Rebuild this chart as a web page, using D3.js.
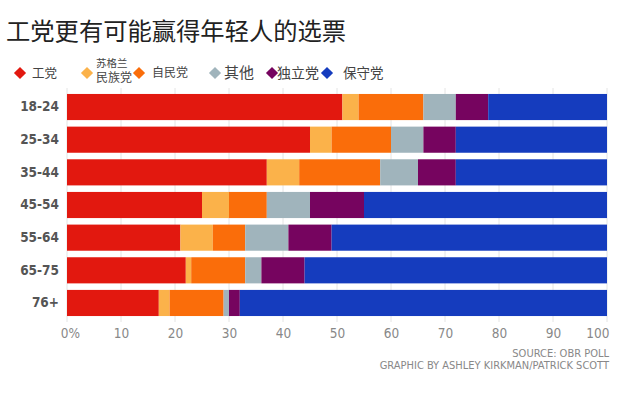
<!DOCTYPE html>
<html>
<head>
<meta charset="utf-8">
<script src="https://cdn.jsdelivr.net/npm/d3@7"></script>
<style>
  html, body { margin: 0; padding: 0; background: #fff; }
  svg { display: block; }
  .cond { font-family: "DejaVu Sans Condensed", "DejaVu Sans", sans-serif; font-stretch: condensed; }
  .cjk { font-family: "Noto Sans CJK SC", sans-serif; }
</style>
</head>
<body>
<svg id="chart" width="630" height="401"></svg>
<script>
const title = "工党更有可能赢得年轻人的选票";
const ageGroups = ["18-24", "25-34", "35-44", "45-54", "55-64", "65-75", "76+"];
const parties = ["工党", "苏格兰民族党", "自民党", "其他", "独立党", "保守党"];
const partyColors = ["#e2180f", "#fbb24a", "#fa6d0a", "#a0b4bc", "#76045f", "#153cbe"];
const labour       = [51, 45, 37, 25, 21, 22, 17];
const snp          = [3, 4, 6, 5, 6, 1, 2];
const libDem       = [12, 11, 15, 7, 6, 10, 10];
const other        = [6, 6, 7, 8, 8, 3, 1];
const ukip         = [6, 6, 7, 10, 8, 8, 2];
const conservative = [22, 28, 28, 45, 51, 56, 68];
const xTicks = [0, 10, 20, 30, 40, 50, 60, 70, 80, 90, 100];
const sourceLines = ["SOURCE: OBR POLL", "GRAPHIC BY ASHLEY KIRKMAN/PATRICK SCOTT"];

const seriesValues = [labour, snp, libDem, other, ukip, conservative];
const rows = ageGroups.map((g, i) => {
  const r = { group: g };
  parties.forEach((p, k) => r[p] = seriesValues[k][i]);
  return r;
});
const stacked = d3.stack().keys(parties)(rows);

const svg = d3.select("#chart");
const x = d3.scaleLinear().domain([0, 100]).range([67, 607]);
const y = d3.scaleBand().domain(ageGroups).range([90.7, 319.3]).paddingInner(0.2).paddingOuter(0.1);
const color = d3.scaleOrdinal().domain(parties).range(partyColors);

// title
svg.append("text").attr("class", "cjk")
  .attr("x", 6).attr("y", 40)
  .attr("font-size", 24.3).attr("fill", "#222")
  .text(title);

// gridlines
svg.append("g").selectAll("line").data(xTicks).join("line")
  .attr("x1", d => x(d)).attr("x2", d => x(d))
  .attr("y1", 88).attr("y2", 322)
  .attr("stroke", "#e4e4e4").attr("stroke-width", 1);

// bars
svg.append("g").selectAll("g").data(stacked).join("g")
  .attr("fill", d => color(d.key))
  .selectAll("rect").data(d => d).join("rect")
  .attr("x", d => x(d[0]))
  .attr("y", d => y(d.data.group))
  .attr("width", d => x(d[1]) - x(d[0]))
  .attr("height", y.bandwidth());

// y axis labels
const yAxis = d3.axisLeft(y).tickSize(0).tickPadding(0);
const gy = svg.append("g").attr("transform", "translate(59,0)").call(yAxis);
gy.select(".domain").remove();
gy.selectAll("text").attr("class", "cond")
  .attr("font-size", 13.5).attr("font-weight", "bold").attr("fill", "#555")
  .attr("font-family", null);

// x axis labels
const xAxis = d3.axisBottom(x).tickValues(xTicks).tickSize(0).tickPadding(0)
  .tickFormat(d => d === 0 ? "0%" : String(d));
const gx = svg.append("g").attr("transform", "translate(0,338)").call(xAxis);
gx.select(".domain").remove();
gx.selectAll("text").attr("class", "cond")
  .attr("font-family", null)
  .attr("font-size", 13.5).attr("fill", "#888").attr("dy", 0)
  .attr("text-anchor", d => d === 100 ? "end" : "middle")
  .attr("dx", d => d === 100 ? 2 : (d === 0 ? 3 : 0));

// legend
const legendItems = [
  { name: parties[0], dx: 20, tx: 32, lines: ["工党"], sizes: [12.5] },
  { name: parties[1], dx: 87, tx: 96, lines: ["苏格兰", "民族党"], sizes: [10.5, 12] },
  { name: parties[2], dx: 139, tx: 152, lines: ["自民党"], sizes: [12] },
  { name: parties[3], dx: 215, tx: 224, lines: ["其他"], sizes: [15] },
  { name: parties[4], dx: 272, tx: 277, lines: ["独立党"], sizes: [14] },
  { name: parties[5], dx: 327, tx: 343, lines: ["保守党"], sizes: [13.5] }
];
const lg = svg.append("g");
legendItems.forEach(it => {
  lg.append("rect")
    .attr("x", -4.3).attr("y", -4.3).attr("width", 8.6).attr("height", 8.6)
    .attr("fill", color(it.name))
    .attr("transform", `translate(${it.dx},73) rotate(45)`);
  if (it.lines.length === 1) {
    lg.append("text").attr("class", "cjk")
      .attr("x", it.tx).attr("y", 73).attr("dy", "0.36em")
      .attr("font-size", it.sizes[0]).attr("fill", "#444").text(it.lines[0]);
  } else {
    it.lines.forEach((l, i) => {
      lg.append("text").attr("class", "cjk")
        .attr("x", it.tx).attr("y", 63 + i * 15).attr("dy", "0.36em")
        .attr("font-size", it.sizes[i]).attr("fill", "#444").text(l);
    });
  }
});

// source
svg.append("g").selectAll("text").data(sourceLines).join("text")
  .attr("class", "cond")
  .attr("x", 609).attr("y", (d, i) => 357 + i * 11.5)
  .attr("text-anchor", "end")
  .attr("font-size", 11).attr("fill", "#888")
  .text(d => d);
</script>
</body>
</html>
